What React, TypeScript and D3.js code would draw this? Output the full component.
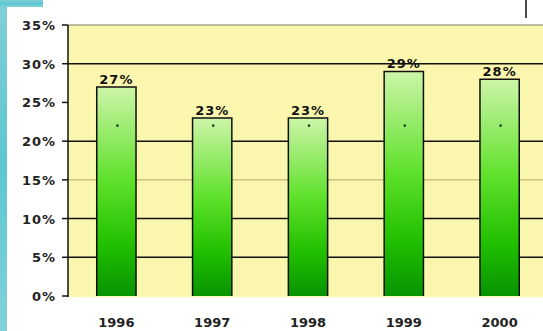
import React from "react";
import * as d3 from "d3";

const years = ["1996", "1997", "1998", "1999", "2000"];
const shares = [0.27, 0.23, 0.23, 0.29, 0.28];
const markerValues = [0.22, 0.22, 0.22, 0.22, 0.22];
const yTicks = [0, 0.05, 0.1, 0.15, 0.2, 0.25, 0.3, 0.35];
const darkGrid = [0.05, 0.1, 0.2, 0.3];
const lightGrid = [0.15];

const W = 543;
const H = 331;
const left = 68;
const top = 25;
const bottom = 296;

export default function App() {
  const x = d3.scaleBand<string>().domain(years).range([left, 548]).paddingInner(0.59).paddingOuter(0.3);
  const y = d3.scaleLinear().domain([0, 0.35]).range([bottom, top]);
  const fmt = d3.format(".0%");
  const font = "'DejaVu Sans', Verdana, sans-serif";
  return (
    <svg width={W} height={H} style={{ position: "absolute", left: 0, top: 0 }}>
      <defs>
        <linearGradient id="bg" x1="0" y1="0" x2="0" y2="1">
          <stop offset="0" stopColor="#cdf5a8" />
          <stop offset="0.45" stopColor="#5ee12a" />
          <stop offset="0.75" stopColor="#22c000" />
          <stop offset="1" stopColor="#079400" />
        </linearGradient>
        <linearGradient id="cy" x1="0" y1="0" x2="0" y2="1">
          <stop offset="0" stopColor="#7fd0d6" />
          <stop offset="0.5" stopColor="#5ec6d0" />
          <stop offset="1" stopColor="#7fd3da" />
        </linearGradient>
      </defs>
      <rect x={0} y={0} width={W} height={H} fill="#ffffff" />
      <rect x={0} y={0} width={7} height={H} fill="url(#cy)" />
      <rect x={0} y={0} width={43} height={7} fill="url(#cy)" />
      <line x1={526} x2={526} y1={0} y2={18} stroke="#111" strokeWidth={1.5} />
      <rect x={left} y={top} width={W - left} height={bottom - top + 1} fill="#fbf6ad" />
      <line x1={left} x2={W} y1={top} y2={top} stroke="#7a7a60" strokeWidth={1} />
      {lightGrid.map((v) => (
        <line key={"l" + v} x1={left} x2={W} y1={y(v)} y2={y(v)} stroke="#b5a46a" strokeWidth={1} />
      ))}
      {darkGrid.map((v) => (
        <line key={"d" + v} x1={left} x2={W} y1={y(v)} y2={y(v)} stroke="#111" strokeWidth={1.5} />
      ))}
      {years.map((yr, i) => {
        const bx = x(yr)!;
        const bw = x.bandwidth();
        const by = y(shares[i]);
        return (
          <g key={yr}>
            <rect x={bx} y={by} width={bw} height={bottom - by} fill="url(#bg)" />
            <path
              d={`M${bx},${bottom} V${by} H${bx + bw} V${bottom}`}
              fill="none"
              stroke="#111"
              strokeWidth={1.5}
            />
            <circle cx={bx + bw / 2 + 1} cy={y(markerValues[i])} r={1.3} fill="#224422" />
            <text
              x={bx + bw / 2}
              y={by - 3}
              textAnchor="middle"
              fontFamily={font}
              fontWeight="bold"
              fontSize={13}
              letterSpacing={1}
              fill="#111"
            >
              {fmt(shares[i])}
            </text>
            <text
              x={bx + bw / 2}
              y={327}
              textAnchor="middle"
              fontFamily={font}
              fontWeight="bold"
              fontSize={13}
              fill="#222"
            >
              {yr}
            </text>
          </g>
        );
      })}
      <line x1={left} x2={left} y1={top} y2={bottom + 1} stroke="#111" strokeWidth={1.5} />
      {yTicks.map((v) => (
        <g key={"t" + v}>
          <line x1={62} x2={left} y1={y(v)} y2={y(v)} stroke="#111" strokeWidth={1.5} />
          <text
            x={56}
            y={y(v) + 5}
            textAnchor="end"
            fontFamily={font}
            fontWeight="bold"
            fontSize={13}
            letterSpacing={1}
            fill="#222"
          >
            {fmt(v)}
          </text>
        </g>
      ))}
    </svg>
  );
}
